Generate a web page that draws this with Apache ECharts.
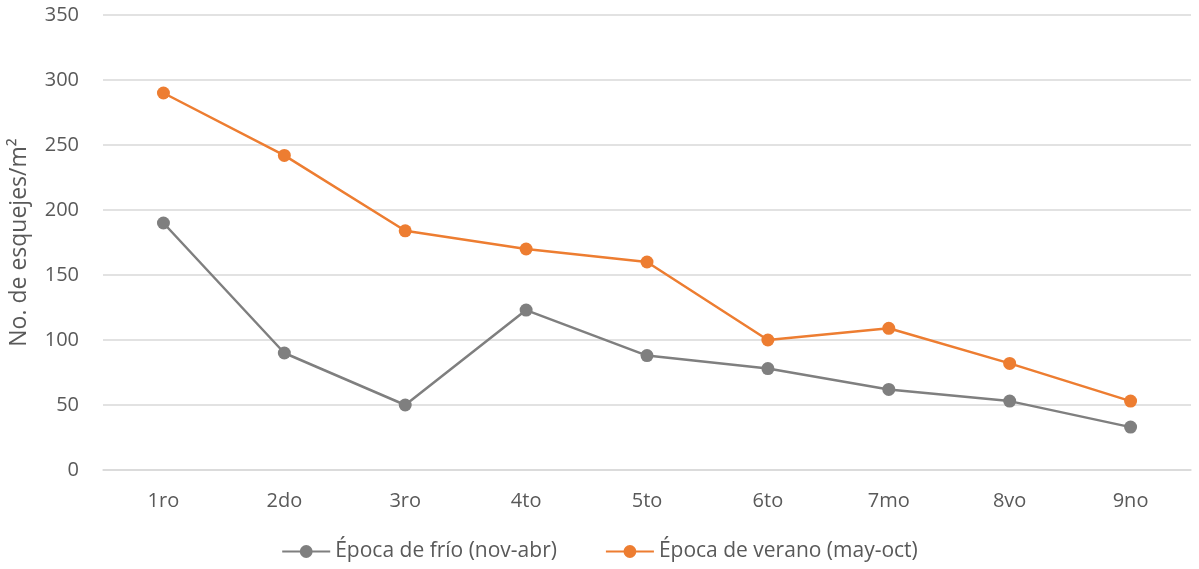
<!DOCTYPE html>
<html>
<head>
<meta charset="utf-8">
<script src="https://cdn.jsdelivr.net/npm/echarts@6/dist/echarts.min.js"></script>
<style>
html,body{margin:0;padding:0;background:#fff;}
#c{width:1199px;height:569px;}
</style>
</head>
<body>
<div id="c"></div>
<script>
const categories = ['1ro','2do','3ro','4to','5to','6to','7mo','8vo','9no'];
const frioValues = [190, 90, 50, 123, 88, 78, 62, 53, 33];
const veranoValues = [290, 242, 184, 170, 160, 100, 109, 82, 53];
const seriesNames = ['Época de frío (nov-abr)', 'Época de verano (may-oct)'];
const yAxisTitle = 'No. de esquejes/m²';

const font = '"Open Sans", "Noto Sans", sans-serif';
const chart = echarts.init(document.getElementById('c'), null, {renderer: 'canvas'});
chart.setOption({
  animation: false,
  backgroundColor: '#ffffff',
  grid: {left: 103, right: 8, top: 15, bottom: 99, containLabel: false},
  legend: {
    bottom: 2,
    left: 'center',
    itemGap: 48,
    itemWidth: 48,
    itemHeight: 16,
    textStyle: {color: '#595959', fontSize: 21, fontFamily: font},
    data: seriesNames
  },
  xAxis: {
    type: 'category',
    data: categories,
    boundaryGap: true,
    axisLine: {show: true, lineStyle: {color: '#d9d9d9', width: 1.5}},
    axisTick: {show: false},
    axisLabel: {color: '#595959', fontSize: 20, fontFamily: font, margin: 21}
  },
  yAxis: {
    type: 'value',
    min: 0, max: 350, interval: 50,
    name: yAxisTitle,
    nameLocation: 'middle',
    nameGap: 72,
    nameRotate: 90,
    nameTextStyle: {color: '#595959', fontSize: 23, fontFamily: font},
    axisLine: {show: false},
    axisTick: {show: false},
    axisLabel: {color: '#595959', fontSize: 20, fontFamily: font, margin: 24},
    splitLine: {lineStyle: {color: '#d9d9d9', width: 1.5}}
  },
  series: [
    {
      name: seriesNames[0],
      type: 'line',
      data: frioValues,
      symbol: 'circle',
      symbolSize: 13,
      itemStyle: {color: '#7f7f7f'},
      lineStyle: {color: '#7f7f7f', width: 2.5}
    },
    {
      name: seriesNames[1],
      type: 'line',
      data: veranoValues,
      symbol: 'circle',
      symbolSize: 13,
      itemStyle: {color: '#ed7d31'},
      lineStyle: {color: '#ed7d31', width: 2.5}
    }
  ]
});
</script>
</body>
</html>
